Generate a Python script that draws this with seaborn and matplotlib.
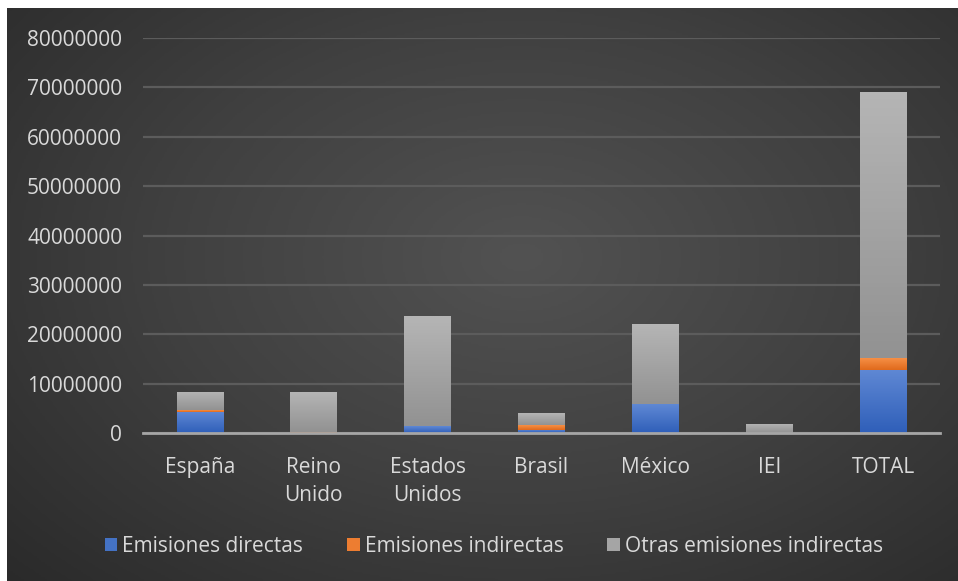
import numpy as np
import pandas as pd
import matplotlib
matplotlib.use("Agg")
import matplotlib.pyplot as plt
import seaborn as sns
from matplotlib.patches import Patch
from matplotlib.colors import LinearSegmentedColormap

categorias = ["España", "Reino\nUnido", "Estados\nUnidos", "Brasil", "México", "IEI", "TOTAL"]
directas = [4300000, 50000, 1400000, 700000, 5800000, 0, 12800000]
indirectas = [400000, 200000, 100000, 1000000, 0, 0, 2300000]
otras = [3700000, 8150000, 22200000, 2400000, 16200000, 1900000, 54000000]
series = ["Emisiones directas", "Emisiones indirectas", "Otras emisiones indirectas"]
yticks = [0, 10000000, 20000000, 30000000, 40000000, 50000000, 60000000, 70000000, 80000000]

sns.set_theme(style="dark")
plt.rcParams["font.family"] = ["Open Sans", "DejaVu Sans"]

W, H = 958, 581
fig = plt.figure(figsize=(W / 100, H / 100), dpi=100)
fig.patch.set_facecolor("white")

# background radial gradient
bg = fig.add_axes([7 / W, 0, 1 - 7 / W, 1 - 8 / H])
bg.set_axis_off()
yy, xx = np.mgrid[0:300, 0:500]
cx, cy = 270, 130
r = np.sqrt(((xx - cx) / 500) ** 2 + ((yy - cy) / 330) ** 2)
r = np.clip(r / 0.75, 0, 1)
cmap_bg = LinearSegmentedColormap.from_list("bg", ["#525252", "#404040", "#2a2a2a"])
bg.imshow(r, cmap=cmap_bg, aspect="auto", extent=[0, 1, 0, 1], vmin=0, vmax=1)

ax_l, ax_r = 143 / W, 940 / W
ax_b, ax_t = 1 - 433 / H, 1 - 38 / H
ax = fig.add_axes([ax_l, ax_b, ax_r - ax_l, ax_t - ax_b])
ax.set_facecolor("none")

df = pd.DataFrame({"cat": categorias, "d": directas, "i": indirectas, "o": otras})
d = np.array(directas, float)
i = np.array(indirectas, float)
o = np.array(otras, float)

colors = ["#4472C4", "#ED7D31", "#A5A5A5"]
grads = [("#5f88d4", "#2f5fb9"), ("#f68f45", "#e06a1c"), ("#b5b5b5", "#929292")]
width = 0.41
sns.barplot(data=df, x="cat", y="d", color=colors[0], width=width, saturation=1, ax=ax, linewidth=0)
n1 = len(ax.patches)
sns.barplot(data=df, x="cat", y="i", bottom=d, color=colors[1], width=width, saturation=1, ax=ax, linewidth=0)
n2 = len(ax.patches)
sns.barplot(data=df, x="cat", y="o", bottom=d + i, color=colors[2], width=width, saturation=1, ax=ax, linewidth=0)

ax.set_xlim(-0.5, 6.5)
ax.set_ylim(0, 80000000)

# gradient fills on bars
for k, p in enumerate(ax.patches):
    s = 0 if k < n1 else (1 if k < n2 else 2)
    x0, y0 = p.get_x(), p.get_y()
    w, h = p.get_width(), p.get_height()
    if h <= 0:
        continue
    cm = LinearSegmentedColormap.from_list("g", [grads[s][1], grads[s][0]])
    g = np.linspace(0, 1, 64).reshape(-1, 1)
    im = ax.imshow(g, cmap=cm, aspect="auto", origin="lower",
                   extent=[x0, x0 + w, y0, y0 + h], zorder=3)
    im.set_clip_path(p)
    p.set_zorder(2)

ax.set_xlim(-0.5, 6.5)
ax.set_ylim(0, 80000000)

ax.set_yticks(yticks)
ax.set_yticklabels([str(v) for v in yticks])
ax.grid(axis="y", color="#5c5c5c", linewidth=1.6)
ax.grid(axis="x", visible=False)
ax.set_axisbelow(True)
for sp in ["top", "right", "left"]:
    ax.spines[sp].set_visible(False)
ax.spines["bottom"].set_visible(True)
ax.spines["bottom"].set_color("#a6a6a6")
ax.spines["bottom"].set_linewidth(2)
ax.spines["bottom"].set_zorder(5)
ax.tick_params(axis="y", length=0, pad=15, labelsize=15, labelcolor="#d9d9d9")
ax.tick_params(axis="x", length=0, pad=17, labelsize=15, labelcolor="#d9d9d9")
for t in ax.get_xticklabels():
    t.set_linespacing(1.45)
ax.set_xlabel("")
ax.set_ylabel("")

handles = [Patch(facecolor=c, edgecolor="none") for c in colors]
fig.legend(handles, series, loc="center", bbox_to_anchor=(494 / W, 1 - 546 / H),
           ncol=3, frameon=False, fontsize=15, labelcolor="#d9d9d9",
           handlelength=0.6, handleheight=0.6, handletextpad=0.25, columnspacing=2.1)

fig.savefig("out.png", dpi=100)
